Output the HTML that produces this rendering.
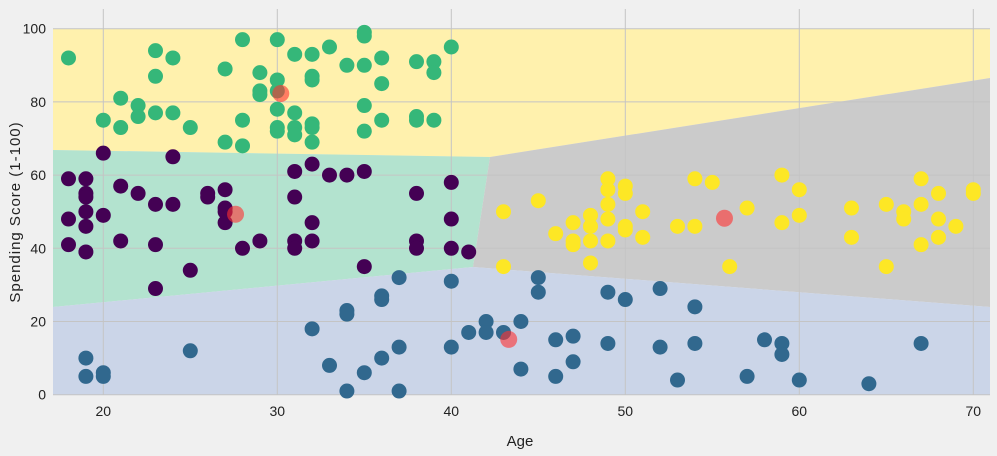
<!DOCTYPE html>
<html><head><meta charset="utf-8"><style>
html,body{margin:0;padding:0;background:#f0f0f0;}
svg{display:block;font-family:"Liberation Sans","Noto Sans CJK SC",sans-serif;}
</style></head><body>
<svg id="s" width="997" height="456" xmlns="http://www.w3.org/2000/svg">
<rect width="997" height="456" fill="#f0f0f0"/>
<g>
<polygon points="53,28.7 990,28.7 990,78 490,157 53,150" fill="#fff1ad"/>
<polygon points="53,150 490,157 473,267 53,307" fill="#b3e3cf"/>
<polygon points="490,157 990,78 990,307 473,267" fill="#cbcbcb"/>
<polygon points="53,307 473,267 990,307 990,394.7 53,394.7" fill="#cbd5e8"/>
</g>
<g id="grid" stroke="#c4c4c4" stroke-width="1"></g>
<g id="pts"></g>
<g id="lbl" font-size="14" fill="#222"></g>
<text x="520" y="446" font-size="15" text-anchor="middle" fill="#222">Age</text>
<text transform="translate(20,212) rotate(-90)" font-size="15" text-anchor="middle" fill="#222" letter-spacing="1">Spending Score (1-100)</text>
</svg>
<script>
var NS="http://www.w3.org/2000/svg";
function X(a){return 103.3+(a-20)*17.4;}
function Y(s){return 394.7-s*3.66;}
function el(p,t,at){var e=document.createElementNS(NS,t);for(var k in at)e.setAttribute(k,at[k]);p.appendChild(e);return e;}
var g=document.getElementById('grid'),l=document.getElementById('lbl'),P=document.getElementById('pts');
[20,30,40,50,60,70].forEach(function(a){el(g,'line',{x1:X(a),x2:X(a),y1:9,y2:394.7});var t=el(l,'text',{x:X(a),y:416,'text-anchor':'middle'});t.textContent=a;});
[0,20,40,60,80,100].forEach(function(s){el(g,'line',{x1:53,x2:990,y1:Y(s),y2:Y(s)});var t=el(l,'text',{x:46,y:Y(s)+5,'text-anchor':'end'});t.textContent=s;});
var G=[[18,92],[23,94],[24,92],[23,87],[21,81],[22,79],[22,76],[20,75],[21,73],[23,77],[24,77],[25,73],[27,89],[28,97],[27,69],[28,68],[28,75],[29,88],[29,83],[29,82],[30,97],[30,86],[30,83],[30,78],[30,73],[30,72],[31,93],[31,77],[31,73],[31,71],[32,93],[32,87],[32,86],[32,74],[32,73],[32,69],[33,95],[34,90],[35,99],[35,98],[35,90],[35,79],[35,72],[36,92],[36,85],[36,75],[38,91],[38,76],[38,75],[39,91],[39,88],[39,75],[40,95]];
var U=[[20,66],[18,59],[19,59],[19,55],[19,54],[19,50],[18,48],[20,49],[19,46],[18,41],[19,39],[21,57],[21,42],[22,55],[23,52],[24,52],[24,65],[23,41],[23,29],[25,34],[26,55],[26,54],[27,56],[27,51],[27,50],[27,47],[28,40],[29,42],[31,61],[31,54],[31,42],[31,40],[32,63],[32,47],[32,42],[33,60],[34,60],[35,61],[35,35],[38,55],[38,42],[38,40],[40,58],[40,48],[40,40],[41,39]];
var B=[[19,10],[19,5],[20,6],[20,5],[25,12],[32,18],[33,8],[34,23],[34,22],[34,1],[35,6],[36,27],[36,26],[36,10],[37,32],[37,13],[37,1],[40,31],[40,13],[41,17],[42,20],[42,17],[43,17],[44,20],[44,7],[45,32],[45,28],[46,15],[46,5],[47,16],[47,9],[49,28],[49,14],[50,26],[52,29],[52,13],[53,4],[54,24],[54,14],[57,5],[58,15],[59,14],[59,11],[60,4],[64,3],[67,14]];
var Yl=[[43,50],[43,35],[45,53],[46,44],[47,47],[47,42],[47,41],[48,49],[48,46],[48,42],[48,36],[49,59],[49,56],[49,52],[49,48],[49,42],[50,57],[50,55],[50,46],[50,45],[51,50],[51,43],[53,46],[54,59],[54,46],[55,58],[56,35],[57,51],[59,60],[59,47],[60,56],[60,49],[63,51],[63,43],[65,52],[65,35],[66,50],[66,48],[67,59],[67,52],[67,41],[68,55],[68,48],[68,43],[69,46],[70,56],[70,55]];
function draw(arr,c){arr.forEach(function(p){el(P,'circle',{cx:X(p[0]),cy:Y(p[1]),r:7.5,fill:c});});}
draw(G,'#35b779');draw(U,'#440154');draw(B,'#31688e');draw(Yl,'#fde725');
[[30.2,82.3],[27.6,49.3],[43.3,15.1],[55.7,48.2]].forEach(function(p){el(P,'circle',{cx:X(p[0]),cy:Y(p[1]),r:8.5,fill:'#ff3030','fill-opacity':0.6});});
</script>
</body></html>
